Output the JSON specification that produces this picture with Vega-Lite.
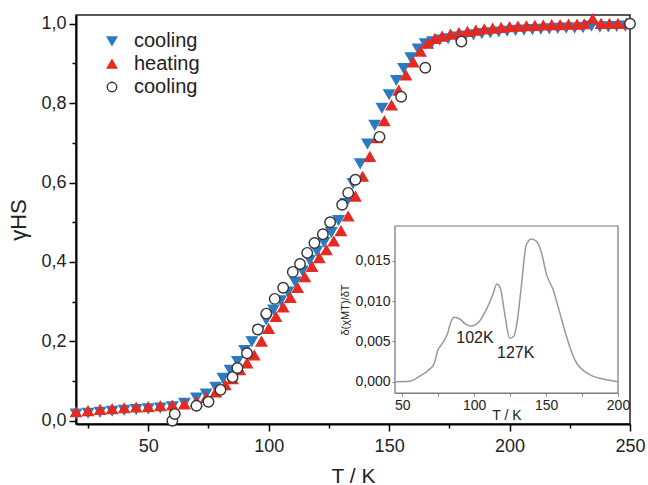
{
  "$schema": "https://vega.github.io/schema/vega-lite/v6.json",
  "width": 554,
  "height": 409,
  "autosize": {"type": "none"},
  "padding": {"left": 76, "top": 15, "right": 18, "bottom": 61},
  "config": {
    "font": "Liberation Sans",
    "view": {"stroke": "#222222", "strokeWidth": 1.5},
    "legend": {"orient": "none", "legendX": 26, "legendY": 16, "padding": 0, "labelFontSize": 20, "labelColor": "#222222", "symbolSize": 90, "rowPadding": 3, "labelOffset": 12, "symbolStrokeWidth": 1.4}
  },
  "datasets": {
    "main": [
      {"s": "c1", "T": 20, "g": 0.018}, {"s": "c1", "T": 25, "g": 0.020}, {"s": "c1", "T": 30, "g": 0.022}, {"s": "c1", "T": 35, "g": 0.025}, {"s": "c1", "T": 40, "g": 0.027}, {"s": "c1", "T": 45, "g": 0.029}, {"s": "c1", "T": 50, "g": 0.031}, {"s": "c1", "T": 55, "g": 0.033}, {"s": "c1", "T": 60, "g": 0.036}, {"s": "c1", "T": 65, "g": 0.045}, {"s": "c1", "T": 70, "g": 0.058}, {"s": "c1", "T": 74, "g": 0.068}, {"s": "c1", "T": 78, "g": 0.085}, {"s": "c1", "T": 81, "g": 0.108}, {"s": "c1", "T": 84, "g": 0.128}, {"s": "c1", "T": 87, "g": 0.150}, {"s": "c1", "T": 90, "g": 0.178}, {"s": "c1", "T": 93, "g": 0.200}, {"s": "c1", "T": 96, "g": 0.228}, {"s": "c1", "T": 99, "g": 0.255}, {"s": "c1", "T": 102, "g": 0.280}, {"s": "c1", "T": 105, "g": 0.303}, {"s": "c1", "T": 108, "g": 0.325}, {"s": "c1", "T": 111, "g": 0.350}, {"s": "c1", "T": 114, "g": 0.378}, {"s": "c1", "T": 117, "g": 0.405}, {"s": "c1", "T": 120, "g": 0.428}, {"s": "c1", "T": 123, "g": 0.450}, {"s": "c1", "T": 126, "g": 0.475}, {"s": "c1", "T": 129, "g": 0.505}, {"s": "c1", "T": 132, "g": 0.548}, {"s": "c1", "T": 135, "g": 0.598}, {"s": "c1", "T": 138, "g": 0.648}, {"s": "c1", "T": 141, "g": 0.698}, {"s": "c1", "T": 144, "g": 0.745}, {"s": "c1", "T": 147, "g": 0.788}, {"s": "c1", "T": 150, "g": 0.822}, {"s": "c1", "T": 153, "g": 0.858}, {"s": "c1", "T": 156, "g": 0.888}, {"s": "c1", "T": 159, "g": 0.915}, {"s": "c1", "T": 162, "g": 0.937}, {"s": "c1", "T": 165, "g": 0.950}, {"s": "c1", "T": 168, "g": 0.955}, {"s": "c1", "T": 171, "g": 0.960}, {"s": "c1", "T": 174.5, "g": 0.963}, {"s": "c1", "T": 178, "g": 0.967}, {"s": "c1", "T": 181.5, "g": 0.970}, {"s": "c1", "T": 185, "g": 0.973}, {"s": "c1", "T": 188.5, "g": 0.976}, {"s": "c1", "T": 192, "g": 0.978}, {"s": "c1", "T": 195.5, "g": 0.980}, {"s": "c1", "T": 199, "g": 0.982}, {"s": "c1", "T": 202.5, "g": 0.984}, {"s": "c1", "T": 206, "g": 0.985}, {"s": "c1", "T": 209.5, "g": 0.986}, {"s": "c1", "T": 213, "g": 0.987}, {"s": "c1", "T": 216.5, "g": 0.988}, {"s": "c1", "T": 220, "g": 0.989}, {"s": "c1", "T": 223.5, "g": 0.990}, {"s": "c1", "T": 227, "g": 0.990}, {"s": "c1", "T": 230.5, "g": 0.991}, {"s": "c1", "T": 234, "g": 0.995}, {"s": "c1", "T": 237.5, "g": 0.992}, {"s": "c1", "T": 241, "g": 0.993}, {"s": "c1", "T": 244.5, "g": 0.994}, {"s": "c1", "T": 248, "g": 0.995},
      {"s": "h", "T": 20, "g": 0.022}, {"s": "h", "T": 25, "g": 0.025}, {"s": "h", "T": 30, "g": 0.028}, {"s": "h", "T": 35, "g": 0.030}, {"s": "h", "T": 40, "g": 0.032}, {"s": "h", "T": 45, "g": 0.034}, {"s": "h", "T": 50, "g": 0.035}, {"s": "h", "T": 55, "g": 0.037}, {"s": "h", "T": 60, "g": 0.039}, {"s": "h", "T": 65, "g": 0.042}, {"s": "h", "T": 70, "g": 0.048}, {"s": "h", "T": 74, "g": 0.058}, {"s": "h", "T": 78, "g": 0.072}, {"s": "h", "T": 82, "g": 0.090}, {"s": "h", "T": 85, "g": 0.105}, {"s": "h", "T": 88, "g": 0.128}, {"s": "h", "T": 91, "g": 0.145}, {"s": "h", "T": 94, "g": 0.165}, {"s": "h", "T": 97, "g": 0.200}, {"s": "h", "T": 100, "g": 0.232}, {"s": "h", "T": 103, "g": 0.262}, {"s": "h", "T": 106, "g": 0.286}, {"s": "h", "T": 109, "g": 0.310}, {"s": "h", "T": 112, "g": 0.335}, {"s": "h", "T": 115, "g": 0.362}, {"s": "h", "T": 118, "g": 0.388}, {"s": "h", "T": 121, "g": 0.410}, {"s": "h", "T": 124, "g": 0.430}, {"s": "h", "T": 127, "g": 0.452}, {"s": "h", "T": 130, "g": 0.478}, {"s": "h", "T": 133, "g": 0.515}, {"s": "h", "T": 136, "g": 0.565}, {"s": "h", "T": 139, "g": 0.615}, {"s": "h", "T": 142, "g": 0.665}, {"s": "h", "T": 145, "g": 0.712}, {"s": "h", "T": 148, "g": 0.755}, {"s": "h", "T": 151, "g": 0.795}, {"s": "h", "T": 154, "g": 0.832}, {"s": "h", "T": 157, "g": 0.870}, {"s": "h", "T": 160, "g": 0.903}, {"s": "h", "T": 163, "g": 0.930}, {"s": "h", "T": 166, "g": 0.950}, {"s": "h", "T": 169, "g": 0.962}, {"s": "h", "T": 172, "g": 0.968}, {"s": "h", "T": 175.5, "g": 0.973}, {"s": "h", "T": 179, "g": 0.977}, {"s": "h", "T": 182.5, "g": 0.980}, {"s": "h", "T": 186, "g": 0.983}, {"s": "h", "T": 189.5, "g": 0.986}, {"s": "h", "T": 193, "g": 0.988}, {"s": "h", "T": 196.5, "g": 0.990}, {"s": "h", "T": 200, "g": 0.992}, {"s": "h", "T": 203.5, "g": 0.993}, {"s": "h", "T": 207, "g": 0.994}, {"s": "h", "T": 210.5, "g": 0.995}, {"s": "h", "T": 214, "g": 0.996}, {"s": "h", "T": 217.5, "g": 0.997}, {"s": "h", "T": 221, "g": 0.997}, {"s": "h", "T": 224.5, "g": 0.998}, {"s": "h", "T": 228, "g": 0.998}, {"s": "h", "T": 231, "g": 0.999}, {"s": "h", "T": 234.5, "g": 1.012}, {"s": "h", "T": 238, "g": 1.0}, {"s": "h", "T": 241.5, "g": 1.0}, {"s": "h", "T": 245, "g": 1.0}, {"s": "h", "T": 248.5, "g": 1.0},
      {"s": "c2", "T": 60, "g": 0.000}, {"s": "c2", "T": 61, "g": 0.017}, {"s": "c2", "T": 70, "g": 0.038}, {"s": "c2", "T": 75, "g": 0.048}, {"s": "c2", "T": 80, "g": 0.078}, {"s": "c2", "T": 85, "g": 0.110}, {"s": "c2", "T": 87, "g": 0.133}, {"s": "c2", "T": 91, "g": 0.170}, {"s": "c2", "T": 95.5, "g": 0.230}, {"s": "c2", "T": 99, "g": 0.270}, {"s": "c2", "T": 102.5, "g": 0.307}, {"s": "c2", "T": 106, "g": 0.335}, {"s": "c2", "T": 110, "g": 0.375}, {"s": "c2", "T": 113, "g": 0.395}, {"s": "c2", "T": 116, "g": 0.423}, {"s": "c2", "T": 119, "g": 0.448}, {"s": "c2", "T": 122.5, "g": 0.470}, {"s": "c2", "T": 125.5, "g": 0.500}, {"s": "c2", "T": 130.5, "g": 0.544}, {"s": "c2", "T": 133, "g": 0.574}, {"s": "c2", "T": 136, "g": 0.607}, {"s": "c2", "T": 146, "g": 0.715}, {"s": "c2", "T": 155, "g": 0.816}, {"s": "c2", "T": 165, "g": 0.889}, {"s": "c2", "T": 180, "g": 0.955}, {"s": "c2", "T": 250, "g": 1.0}
    ],
    "curve": [
      {"T": 45.6, "v": 0.0}, {"T": 54.9, "v": 0.00005}, {"T": 61.9, "v": 0.00066}, {"T": 68.8, "v": 0.0015}, {"T": 72.3, "v": 0.0023}, {"T": 74.6, "v": 0.0038}, {"T": 78.1, "v": 0.0048}, {"T": 81.6, "v": 0.006}, {"T": 84, "v": 0.0075}, {"T": 86.3, "v": 0.008}, {"T": 89.8, "v": 0.0078}, {"T": 94.4, "v": 0.0071}, {"T": 97.9, "v": 0.0069}, {"T": 103.7, "v": 0.0075}, {"T": 108.4, "v": 0.0089}, {"T": 113, "v": 0.0108}, {"T": 115.8, "v": 0.0121}, {"T": 118.2, "v": 0.0116}, {"T": 121.2, "v": 0.0085}, {"T": 124.7, "v": 0.0054}, {"T": 127.5, "v": 0.0056}, {"T": 129.8, "v": 0.0073}, {"T": 132.8, "v": 0.0118}, {"T": 136.3, "v": 0.017}, {"T": 139.8, "v": 0.0177}, {"T": 143.3, "v": 0.0174}, {"T": 146.8, "v": 0.016}, {"T": 150.3, "v": 0.0133}, {"T": 154.9, "v": 0.0114}, {"T": 159.6, "v": 0.0085}, {"T": 164.2, "v": 0.0056}, {"T": 170, "v": 0.0027}, {"T": 178.2, "v": 0.0011}, {"T": 189.8, "v": 0.00033}, {"T": 200, "v": 0.0}
    ],
    "frame": [{"T": 45, "T2": 200, "v": -0.0014, "v2": 0.0193}],
    "labels": [{"T": 100.6, "v": 0.00545, "text": "102K"}, {"T": 128.9, "v": 0.0036, "text": "127K"}]
  },
  "layer": [
    {
      "data": {"name": "main"},
      "mark": {"type": "point", "opacity": 1, "fillOpacity": 1, "strokeWidth": 1.4, "size": 110},
      "encoding": {
        "x": {
          "field": "T", "type": "quantitative",
          "scale": {"domain": [20, 250], "nice": false, "zero": false},
          "axis": {
            "orient": "bottom", "title": "T / K", "values": [25, 50, 75, 100, 125, 150, 175, 200, 225, 250],
            "labelExpr": "datum.value % 50 == 0 ? datum.label : ''",
            "grid": false, "domainColor": "#000000", "domainWidth": 2, "tickColor": "#000000", "tickWidth": 1.5,
            "tickSize": {"condition": {"test": "datum.value % 50 != 0", "value": 4}, "value": 7},
            "labelFontSize": 18, "labelColor": "#222222", "labelPadding": 6, "labelFlush": false,
            "titleFontSize": 21, "titleFontWeight": "normal", "titleColor": "#222222", "titlePadding": 10
          }
        },
        "y": {
          "field": "g", "type": "quantitative",
          "scale": {"domain": [-0.008, 1.022], "nice": false, "zero": false},
          "axis": {
            "orient": "left", "title": "γHS", "values": [0, 0.1, 0.2, 0.3, 0.4, 0.5, 0.6, 0.7, 0.8, 0.9, 1.0],
            "labelExpr": "round(datum.value * 10) % 2 == 0 ? replace(format(datum.value, '.1f'), '.', ',') : ''",
            "grid": false, "domainColor": "#000000", "domainWidth": 2, "tickColor": "#000000", "tickWidth": 1.5,
            "tickSize": {"condition": {"test": "round(datum.value * 10) % 2 != 0", "value": 4}, "value": 7},
            "labelFontSize": 18, "labelColor": "#222222", "labelPadding": 3, "labelFlush": false,
            "titleFontSize": 22, "titleFontWeight": "normal", "titleColor": "#222222", "titlePadding": 10
          }
        },
        "shape": {
          "field": "s", "type": "nominal",
          "scale": {"domain": ["c1", "h", "c2"], "range": ["triangle-down", "triangle-up", "circle"]},
          "legend": {"title": null, "labelExpr": "datum.label == 'h' ? 'heating' : 'cooling'"}
        },
        "fill": {
          "field": "s", "type": "nominal",
          "scale": {"domain": ["c1", "h", "c2"], "range": ["#2a7bc2", "#e52a22", "#ffffff"]},
          "legend": {"title": null, "labelExpr": "datum.label == 'h' ? 'heating' : 'cooling'"}
        },
        "stroke": {
          "field": "s", "type": "nominal",
          "scale": {"domain": ["c1", "h", "c2"], "range": ["#2a7bc2", "#e52a22", "#333333"]},
          "legend": {"title": null, "labelExpr": "datum.label == 'h' ? 'heating' : 'cooling'"}
        }
      }
    },
    {
      "encoding": {
        "x": {
          "field": "T", "type": "quantitative",
          "scale": {"domain": [45, 200], "range": [319, 542], "nice": false, "zero": false},
          "axis": {
            "orient": "bottom", "offset": -31, "title": "T / K", "values": [50, 75, 100, 125, 150, 175, 200],
            "labelExpr": "datum.value % 50 == 0 ? datum.label : ''",
            "grid": false, "domainColor": "#888888", "domainWidth": 1.2, "tickColor": "#888888", "tickSize": 3,
            "labelFontSize": 14, "labelColor": "#222222", "labelPadding": 2, "labelFlush": false,
            "titleFontSize": 14, "titleFontWeight": "normal", "titleColor": "#222222", "titlePadding": -4
          }
        },
        "y": {
          "field": "v", "type": "quantitative",
          "scale": {"domain": [-0.0014, 0.0193], "range": [378, 211], "nice": false, "zero": false},
          "axis": {
            "orient": "left", "offset": -319, "title": "δ(χMT)/δT", "values": [0, 0.005, 0.01, 0.015],
            "labelExpr": "replace(format(datum.value, '.3f'), '.', ',')",
            "grid": false, "domainColor": "#888888", "domainWidth": 1.2, "tickColor": "#888888", "tickSize": 3,
            "labelFontSize": 14, "labelColor": "#222222", "labelPadding": 2, "labelFlush": false,
            "titleFontSize": 11, "titleFontWeight": "normal", "titleColor": "#222222", "titlePadding": 4
          }
        }
      },
      "layer": [
        {
          "data": {"name": "frame"},
          "mark": {"type": "rect", "fill": "#ffffff", "stroke": "#777777", "strokeWidth": 1.2},
          "encoding": {"x2": {"field": "T2"}, "y2": {"field": "v2"}}
        },
        {
          "data": {"name": "curve"},
          "mark": {"type": "line", "color": "#999999", "strokeWidth": 1.5, "interpolate": "monotone"},
          "encoding": {}
        },
        {
          "data": {"name": "labels"},
          "mark": {"type": "text", "fontSize": 16, "color": "#222222"},
          "encoding": {"text": {"field": "text"}}
        }
      ]
    }
  ],
  "resolve": {"scale": {"x": "independent", "y": "independent"}, "axis": {"x": "independent", "y": "independent"}}
}
